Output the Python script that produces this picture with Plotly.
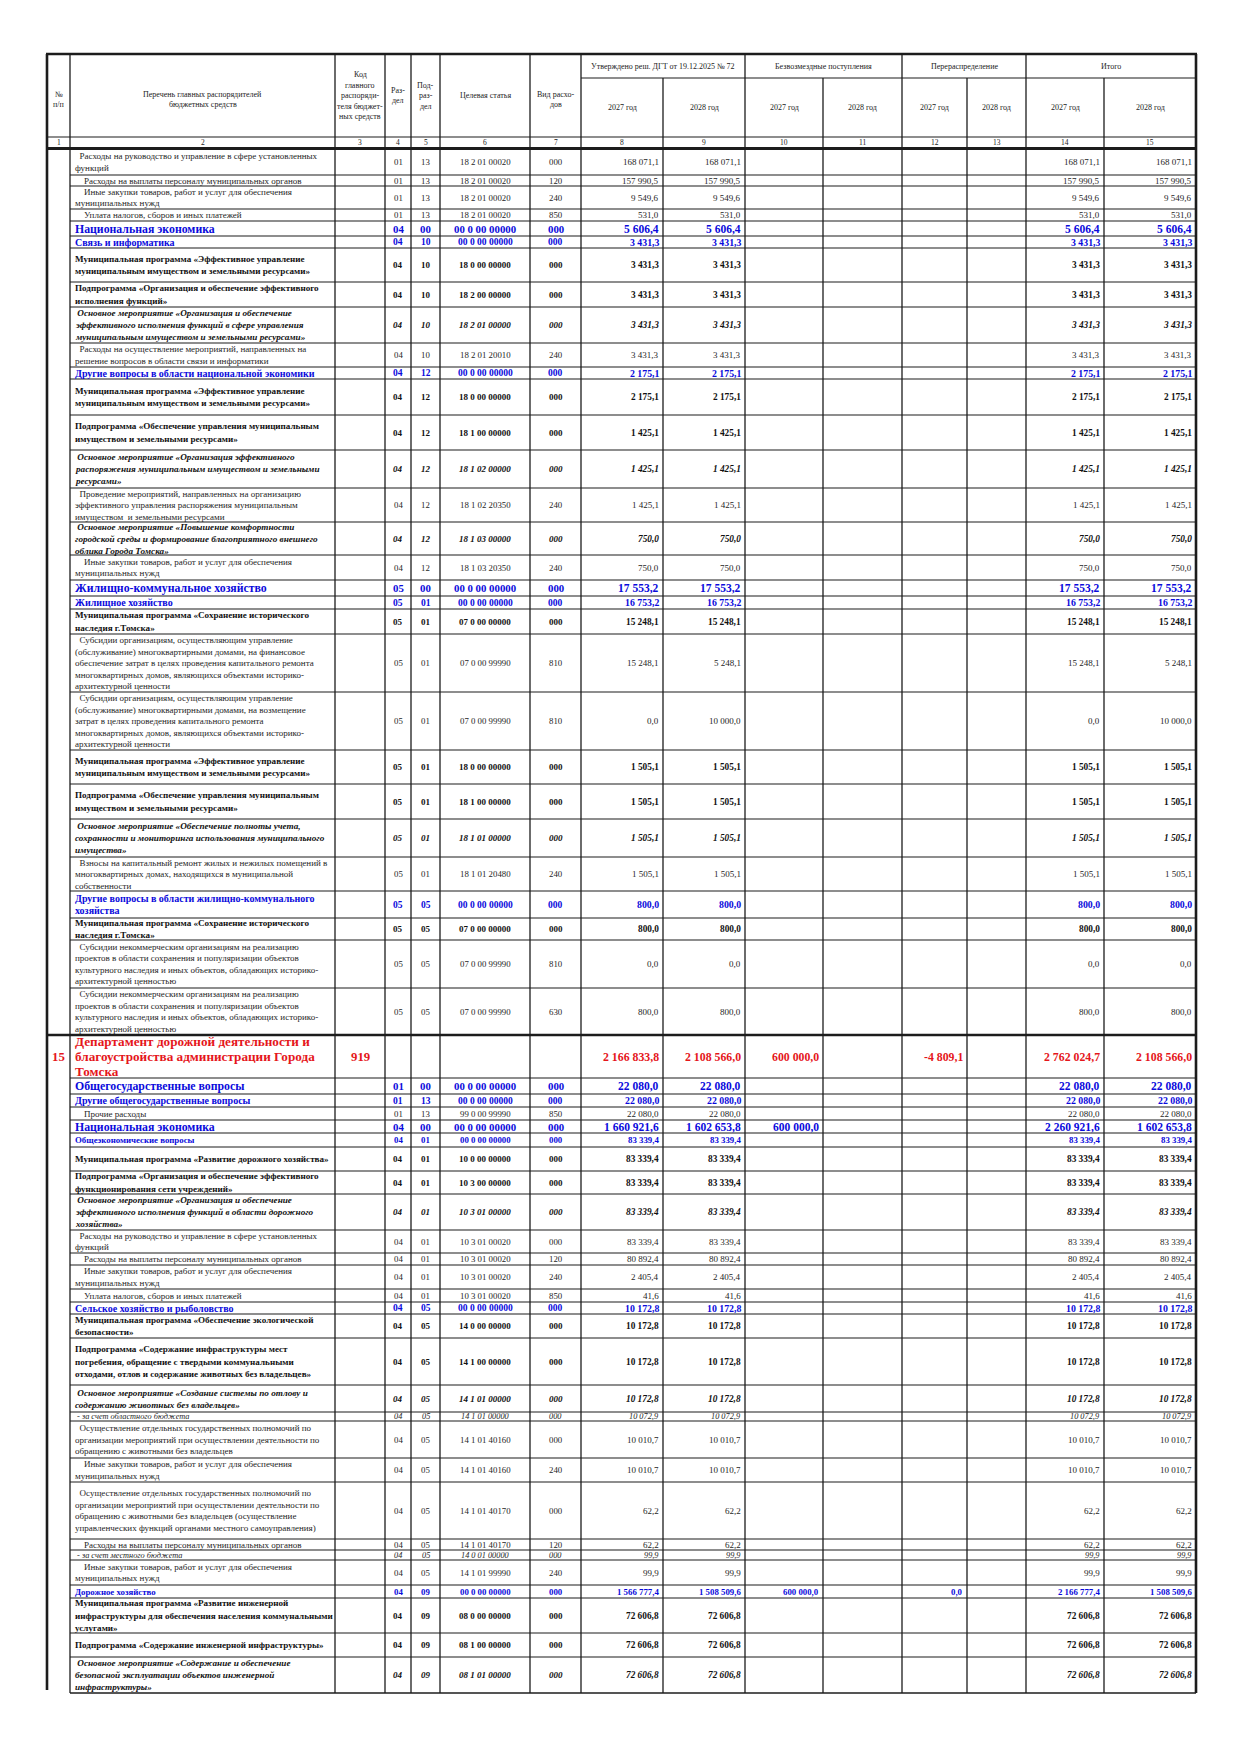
import plotly.graph_objects as go

NB = "\u00a0"

# ---------------- DATA ----------------
names = [
    NB*2 + "Расходы на руководство и управление в сфере установленных\nфункций",
    NB*4 + "Расходы на выплаты персоналу муниципальных органов",
    NB*4 + "Иные закупки товаров, работ и услуг для обеспечения\nмуниципальных нужд",
    NB*4 + "Уплата налогов, сборов и иных платежей",
    "Национальная экономика",
    "Связь и информатика",
    "Муниципальная программа «Эффективное управление\nмуниципальным имуществом и земельными ресурсами»",
    "Подпрограмма «Организация и обеспечение эффективного\nисполнения функций»",
    NB + "Основное мероприятие «Организация и обеспечение\nэффективного исполнения функций в сфере управления\nмуниципальным имуществом и земельными ресурсами»",
    NB*2 + "Расходы на осуществление мероприятий, направленных на\nрешение вопросов в области связи и информатики",
    "Другие вопросы в области национальной экономики",
    "Муниципальная программа «Эффективное управление\nмуниципальным имуществом и земельными ресурсами»",
    "Подпрограмма «Обеспечение управления муниципальным\nимуществом и земельными ресурсами»",
    NB + "Основное мероприятие «Организация эффективного\nраспоряжения муниципальным имуществом и земельными\nресурсами»",
    NB*2 + "Проведение мероприятий, направленных на организацию\nэффективного управления распоряжения муниципальным\nимуществом " + NB + "и земельными ресурсами",
    NB + "Основное мероприятие «Повышение комфортности\nгородской среды и формирование благоприятного внешнего\nоблика Города Томска»",
    NB*4 + "Иные закупки товаров, работ и услуг для обеспечения\nмуниципальных нужд",
    "Жилищно-коммунальное хозяйство",
    "Жилищное хозяйство",
    "Муниципальная программа «Сохранение исторического\nнаследия г.Томска»",
    NB*2 + "Субсидии организациям, осуществляющим управление\n(обслуживание) многоквартирными домами, на финансовое\nобеспечение затрат в целях проведения капитального ремонта\nмногоквартирных домов, являющихся объектами историко-\nархитектурной ценности",
    NB*2 + "Субсидии организациям, осуществляющим управление\n(обслуживание) многоквартирными домами, на возмещение\nзатрат в целях проведения капитального ремонта\nмногоквартирных домов, являющихся объектами историко-\nархитектурной ценности",
    "Муниципальная программа «Эффективное управление\nмуниципальным имуществом и земельными ресурсами»",
    "Подпрограмма «Обеспечение управления муниципальным\nимуществом и земельными ресурсами»",
    NB + "Основное мероприятие «Обеспечение полноты учета,\nсохранности и мониторинга использования муниципального\nимущества»",
    NB*2 + "Взносы на капитальный ремонт жилых и нежилых помещений в\nмногоквартирных домах, находящихся в муниципальной\nсобственности",
    "Другие вопросы в области жилищно-коммунального\nхозяйства",
    "Муниципальная программа «Сохранение исторического\nнаследия г.Томска»",
    NB*2 + "Субсидии некоммерческим организациям на реализацию\nпроектов в области сохранения и популяризации объектов\nкультурного наследия и иных объектов, обладающих историко-\nархитектурной ценностью",
    NB*2 + "Субсидии некоммерческим организациям на реализацию\nпроектов в области сохранения и популяризации объектов\nкультурного наследия и иных объектов, обладающих историко-\nархитектурной ценностью",
    "Департамент дорожной деятельности и\nблагоустройства администрации Города\nТомска",
    "Общегосударственные вопросы",
    "Другие общегосударственные вопросы",
    NB*4 + "Прочие расходы",
    "Национальная экономика",
    "Общеэкономические вопросы",
    "Муниципальная программа «Развитие дорожного хозяйства»",
    "Подпрограмма «Организация и обеспечение эффективного\nфункционирования сети учреждений»",
    NB + "Основное мероприятие «Организация и обеспечение\nэффективного исполнения функций в области дорожного\nхозяйства»",
    NB*2 + "Расходы на руководство и управление в сфере установленных\nфункций",
    NB*4 + "Расходы на выплаты персоналу муниципальных органов",
    NB*4 + "Иные закупки товаров, работ и услуг для обеспечения\nмуниципальных нужд",
    NB*4 + "Уплата налогов, сборов и иных платежей",
    "Сельское хозяйство и рыболовство",
    "Муниципальная программа «Обеспечение экологической\nбезопасности»",
    "Подпрограмма «Содержание инфраструктуры мест\nпогребения, обращение с твердыми коммунальными\nотходами, отлов и содержание животных без владельцев»",
    NB + "Основное мероприятие «Создание системы по отлову и\nсодержанию животных без владельцев»",
    NB + "- за счет областного бюджета",
    NB*2 + "Осуществление отдельных государственных полномочий по\nорганизации мероприятий при осуществлении деятельности по\nобращению с животными без владельцев",
    NB*4 + "Иные закупки товаров, работ и услуг для обеспечения\nмуниципальных нужд",
    NB*2 + "Осуществление отдельных государственных полномочий по\nорганизации мероприятий при осуществлении деятельности по\nобращению с животными без владельцев (осуществление\nуправленческих функций органами местного самоуправления)",
    NB*4 + "Расходы на выплаты персоналу муниципальных органов",
    NB + "- за счет местного бюджета",
    NB*4 + "Иные закупки товаров, работ и услуг для обеспечения\nмуниципальных нужд",
    "Дорожное хозяйство",
    "Муниципальная программа «Развитие инженерной\nинфраструктуры для обеспечения населения коммунальными\nуслугами»",
    "Подпрограмма «Содержание инженерной инфраструктуры»",
    NB + "Основное мероприятие «Содержание и обеспечение\nбезопасной эксплуатации объектов инженерной\nинфраструктуры»",
]

row_kind = [
    "reg", "reg", "reg", "reg", "sec", "sec2", "bold", "bold", "ital", "reg",
    "sec2", "bold", "bold", "ital", "reg", "ital", "reg", "sec", "sec2", "bold",
    "reg", "reg", "bold", "bold", "ital", "reg", "sec2", "bold", "reg", "reg",
    "dept", "sec", "sec2", "reg", "sec", "sec3", "bold", "bold", "ital", "reg",
    "reg", "reg", "reg", "sec2", "bold", "bold", "ital", "sub", "reg", "reg",
    "reg", "reg", "sub", "reg", "sec3", "bold", "bold", "ital",
]

row_no = [""] * 30 + ["15"] + [""] * 27
glav_code = [""] * 30 + ["919"] + [""] * 27

razdel = ["01"] * 4 + ["04"] * 13 + ["05"] * 13 + [""] + ["01"] * 3 + ["04"] * 24

podrazdel = (["13"] * 4 + ["00"] + ["10"] * 5 + ["12"] * 7 + ["00"] + ["01"] * 8
             + ["05"] * 4 + [""] + ["00"] + ["13"] * 2 + ["00"] + ["01"] * 8
             + ["05"] * 11 + ["09"] * 4)

tsel = [
    "18 2 01 00020", "18 2 01 00020", "18 2 01 00020", "18 2 01 00020",
    "00 0 00 00000", "00 0 00 00000", "18 0 00 00000", "18 2 00 00000",
    "18 2 01 00000", "18 2 01 20010", "00 0 00 00000", "18 0 00 00000",
    "18 1 00 00000", "18 1 02 00000", "18 1 02 20350", "18 1 03 00000",
    "18 1 03 20350", "00 0 00 00000", "00 0 00 00000", "07 0 00 00000",
    "07 0 00 99990", "07 0 00 99990", "18 0 00 00000", "18 1 00 00000",
    "18 1 01 00000", "18 1 01 20480", "00 0 00 00000", "07 0 00 00000",
    "07 0 00 99990", "07 0 00 99990", "",
    "00 0 00 00000", "00 0 00 00000", "99 0 00 99990", "00 0 00 00000",
    "00 0 00 00000", "10 0 00 00000", "10 3 00 00000", "10 3 01 00000",
    "10 3 01 00020", "10 3 01 00020", "10 3 01 00020", "10 3 01 00020",
    "00 0 00 00000", "14 0 00 00000", "14 1 00 00000", "14 1 01 00000",
    "14 1 01 00000", "14 1 01 40160", "14 1 01 40160", "14 1 01 40170",
    "14 1 01 40170", "14 0 01 00000", "14 1 01 99990", "00 0 00 00000",
    "08 0 00 00000", "08 1 00 00000", "08 1 01 00000",
]

vid = [
    "000", "120", "240", "850", "000", "000", "000", "000", "000", "240",
    "000", "000", "000", "000", "240", "000", "240", "000", "000", "000",
    "810", "810", "000", "000", "000", "240", "000", "000", "810", "630",
    "", "000", "000", "850", "000", "000", "000", "000", "000", "000",
    "120", "240", "850", "000", "000", "000", "000", "000", "000", "240",
    "000", "120", "000", "240", "000", "000", "000", "000",
]

approved_2027 = [
    168071.1, 157990.5, 9549.6, 531.0, 5606.4, 3431.3, 3431.3, 3431.3, 3431.3, 3431.3,
    2175.1, 2175.1, 1425.1, 1425.1, 1425.1, 750.0, 750.0, 17553.2, 16753.2, 15248.1,
    15248.1, 0.0, 1505.1, 1505.1, 1505.1, 1505.1, 800.0, 800.0, 0.0, 800.0,
    2166833.8, 22080.0, 22080.0, 22080.0, 1660921.6, 83339.4, 83339.4, 83339.4, 83339.4, 83339.4,
    80892.4, 2405.4, 41.6, 10172.8, 10172.8, 10172.8, 10172.8, 10072.9, 10010.7, 10010.7,
    62.2, 62.2, 99.9, 99.9, 1566777.4, 72606.8, 72606.8, 72606.8,
]
approved_2028 = [
    168071.1, 157990.5, 9549.6, 531.0, 5606.4, 3431.3, 3431.3, 3431.3, 3431.3, 3431.3,
    2175.1, 2175.1, 1425.1, 1425.1, 1425.1, 750.0, 750.0, 17553.2, 16753.2, 15248.1,
    5248.1, 10000.0, 1505.1, 1505.1, 1505.1, 1505.1, 800.0, 800.0, 0.0, 800.0,
    2108566.0, 22080.0, 22080.0, 22080.0, 1602653.8, 83339.4, 83339.4, 83339.4, 83339.4, 83339.4,
    80892.4, 2405.4, 41.6, 10172.8, 10172.8, 10172.8, 10172.8, 10072.9, 10010.7, 10010.7,
    62.2, 62.2, 99.9, 99.9, 1508509.6, 72606.8, 72606.8, 72606.8,
]
gratis_2027 = [None] * 30 + [600000.0] + [None] * 3 + [600000.0] + [None] * 19 + [600000.0] + [None] * 3
gratis_2028 = [None] * 58
redistr_2027 = [None] * 30 + [-4809.1] + [None] * 23 + [0.0] + [None] * 3
redistr_2028 = [None] * 58
total_2027 = [
    168071.1, 157990.5, 9549.6, 531.0, 5606.4, 3431.3, 3431.3, 3431.3, 3431.3, 3431.3,
    2175.1, 2175.1, 1425.1, 1425.1, 1425.1, 750.0, 750.0, 17553.2, 16753.2, 15248.1,
    15248.1, 0.0, 1505.1, 1505.1, 1505.1, 1505.1, 800.0, 800.0, 0.0, 800.0,
    2762024.7, 22080.0, 22080.0, 22080.0, 2260921.6, 83339.4, 83339.4, 83339.4, 83339.4, 83339.4,
    80892.4, 2405.4, 41.6, 10172.8, 10172.8, 10172.8, 10172.8, 10072.9, 10010.7, 10010.7,
    62.2, 62.2, 99.9, 99.9, 2166777.4, 72606.8, 72606.8, 72606.8,
]
total_2028 = [
    168071.1, 157990.5, 9549.6, 531.0, 5606.4, 3431.3, 3431.3, 3431.3, 3431.3, 3431.3,
    2175.1, 2175.1, 1425.1, 1425.1, 1425.1, 750.0, 750.0, 17553.2, 16753.2, 15248.1,
    5248.1, 10000.0, 1505.1, 1505.1, 1505.1, 1505.1, 800.0, 800.0, 0.0, 800.0,
    2108566.0, 22080.0, 22080.0, 22080.0, 1602653.8, 83339.4, 83339.4, 83339.4, 83339.4, 83339.4,
    80892.4, 2405.4, 41.6, 10172.8, 10172.8, 10172.8, 10172.8, 10072.9, 10010.7, 10010.7,
    62.2, 62.2, 99.9, 99.9, 1508509.6, 72606.8, 72606.8, 72606.8,
]

header_groups = ["Утверждено реш. ДГТ от 19.12.2025 № 72", "Безвозмездные поступления",
                 "Перераспределение", "Итого"]
header_years = ["2027 год", "2028 год"]
header_fixed = ["№\nп/п", "Перечень главных распорядителей\nбюджетных средств",
                "Код\nглавного\nраспоряди-\nтеля бюджет-\nных средств",
                "Раз-\nдел", "Под-\nраз-\nдел", "Целевая статья", "Вид расхо-\nдов"]
col_numbers = [str(i) for i in range(1, 16)]

# ---------------- LAYOUT (sizes / styles) ----------------
COL_X = [47, 70, 335, 385, 411, 440, 530, 581, 663, 745, 823, 902, 967, 1026, 1104, 1196]
HDR_Y = [54, 78, 137, 148.5]
DATA_TOP = 149
ROW_H = [26, 11, 23, 12, 15, 12, 34, 25, 36, 24, 12, 36, 35, 38, 34, 33, 25, 16, 13, 25,
         58, 58, 34, 35, 38, 34, 27, 22, 48, 47, 43, 16, 13, 13, 13, 14, 24, 23, 36, 23,
         12, 24, 13, 12, 24, 47, 27, 9, 37, 24, 57, 11, 10, 25, 13, 35, 24, 36]

FONT = "Liberation Serif, Times New Roman, serif"
DARK = "#262626"
BLACK = "#111111"
BLUE = "#0A0ADC"
RED = "#E5161B"
LINE = "#1c1c1c"

STY = {
    "reg":  dict(ns=9.0,  cs=8.8,  vs=9.0,  col=DARK,  b=False, i=False, lh=11.5),
    "bold": dict(ns=9.1,  cs=9.0,  vs=9.3,  col=BLACK, b=True,  i=False, lh=12.5),
    "ital": dict(ns=9.2,  cs=9.0,  vs=9.3,  col=BLACK, b=True,  i=True,  lh=12.0),
    "sub":  dict(ns=8.3,  cs=8.3,  vs=8.3,  col=DARK,  b=False, i=True,  lh=10.0),
    "sec":  dict(ns=11.8, cs=10.8, vs=11.5, col=BLUE,  b=True,  i=False, lh=13.0),
    "sec2": dict(ns=10.0, cs=9.5,  vs=9.8,  col=BLUE,  b=True,  i=False, lh=12.0),
    "sec3": dict(ns=8.8,  cs=8.8,  vs=8.8,  col=BLUE,  b=True,  i=False, lh=11.0),
    "dept": dict(ns=13.2, cs=12.8, vs=11.8, col=RED,   b=True,  i=False, lh=15.0),
}


def fmt(v):
    if v is None:
        return ""
    s = f"{abs(v):,.1f}".replace(",", NB).replace(".", ",")
    return ("-" if v < 0 else "") + s


def deco(t, b, i):
    if not t:
        return t
    if i:
        t = "<i>" + t + "</i>"
    if b:
        t = "<b>" + t + "</b>"
    return t


annotations = []
shapes = []


def txt(x, y, t, size, color, xanchor="center", b=False, i=False):
    if t == "":
        return
    annotations.append(dict(
        x=x, y=y, xref="x", yref="y", text=deco(t, b, i), showarrow=False,
        xanchor=xanchor, yanchor="middle", align=xanchor if xanchor != "center" else "center",
        font=dict(family=FONT, size=size, color=color)))


def multiline(x, cy, t, size, color, lh, xanchor="center", b=False, i=False):
    lines = t.split("\n")
    n = len(lines)
    for k, ln in enumerate(lines):
        txt(x, cy + (k - (n - 1) / 2) * lh, ln, size, color, xanchor, b, i)


def hline(y, x0, x1, w=1.0):
    shapes.append(dict(type="line", xref="x", yref="y", x0=x0, x1=x1, y0=y, y1=y,
                       line=dict(color=LINE, width=w)))


def vline(x, y0, y1, w=1.0):
    shapes.append(dict(type="line", xref="x", yref="y", x0=x, x1=x, y0=y0, y1=y1,
                       line=dict(color=LINE, width=w)))


# row edges
row_top = [DATA_TOP]
for h in ROW_H:
    row_top.append(row_top[-1] + h)
TABLE_BOTTOM = row_top[-1]


def ccenter(c):
    return (COL_X[c] + COL_X[c + 1]) / 2


# ---- header ----
HS = 8.0
HC = "#222222"
for c, t in enumerate(header_fixed):
    multiline(ccenter(c), (HDR_Y[0] + HDR_Y[2]) / 2 + (4 if c in (0, 1, 6) else 0),
              t, HS, HC, 10.5)
for g, t in enumerate(header_groups):
    c0 = 7 + 2 * g
    txt((COL_X[c0] + COL_X[c0 + 2]) / 2, (HDR_Y[0] + HDR_Y[1]) / 2, t, HS, HC)
    for k in range(2):
        txt(ccenter(c0 + k), (HDR_Y[1] + HDR_Y[2]) / 2, header_years[k], HS, HC)
for c, t in enumerate(col_numbers):
    txt(ccenter(c), (HDR_Y[2] + HDR_Y[3]) / 2, t, 7.5, HC)

# ---- body ----
value_cols = [approved_2027, approved_2028, gratis_2027, gratis_2028,
              redistr_2027, redistr_2028, total_2027, total_2028]
for r in range(len(names)):
    s = STY[row_kind[r]]
    cy = (row_top[r] + row_top[r + 1]) / 2
    multiline(COL_X[1] + 2.5, cy, names[r], s["ns"], s["col"], s["lh"], "left", s["b"], s["i"])
    txt(ccenter(0), cy, row_no[r], s["cs"], s["col"], "center", s["b"], s["i"])
    txt(ccenter(2), cy, glav_code[r], s["cs"], s["col"], "center", s["b"], s["i"])
    txt(ccenter(3), cy, razdel[r], s["cs"], s["col"], "center", s["b"], s["i"])
    txt(ccenter(4), cy, podrazdel[r], s["cs"], s["col"], "center", s["b"], s["i"])
    txt(ccenter(5), cy, tsel[r], s["cs"], s["col"], "center", s["b"], s["i"])
    txt(ccenter(6), cy, vid[r], s["cs"], s["col"], "center", s["b"], s["i"])
    for k, arr in enumerate(value_cols):
        txt(COL_X[8 + k] - 2, cy, fmt(arr[r]), s["vs"], s["col"], "right", s["b"], s["i"])

# ---- grid ----
for r in range(len(names)):
    yb = row_top[r + 1]
    if r + 1 < len(names) and row_kind[r + 1] == "dept":
        hline(yb, COL_X[0], COL_X[-1], 2.6)
    elif r == len(names) - 1:
        hline(yb, COL_X[1], COL_X[-1], 1.6)
    else:
        hline(yb, COL_X[1], COL_X[-1], 1.1)

hline(HDR_Y[0], COL_X[0] - 1, COL_X[-1] + 1, 2.6)
hline(HDR_Y[1], COL_X[7], COL_X[-1], 1.1)
hline(HDR_Y[2], COL_X[0], COL_X[-1], 1.1)
hline(HDR_Y[3], COL_X[0], COL_X[-1], 2.8)
vline(COL_X[0], HDR_Y[0], TABLE_BOTTOM - 3, 2.6)
vline(COL_X[-1], HDR_Y[0], TABLE_BOTTOM, 2.6)
for c in range(1, len(COL_X) - 1):
    top = HDR_Y[1] if c in (8, 10, 12, 14) else HDR_Y[0]
    vline(COL_X[c], top, TABLE_BOTTOM, 1.3)

fig = go.Figure()
fig.add_trace(go.Scatter(x=[0, 1240], y=[0, 1753], mode="markers",
                         marker=dict(opacity=0), hoverinfo="skip", showlegend=False))
fig.update_layout(
    width=1240, height=1753, autosize=False,
    margin=dict(l=0, r=0, t=0, b=0, pad=0),
    paper_bgcolor="white", plot_bgcolor="white",
    xaxis=dict(range=[0, 1240], visible=False, fixedrange=True),
    yaxis=dict(range=[1753, 0], visible=False, fixedrange=True),
    annotations=annotations, shapes=shapes, showlegend=False,
)
fig.write_html("out.html", post_script="document.body.style.margin='0px';",
               config={"displayModeBar": False})
